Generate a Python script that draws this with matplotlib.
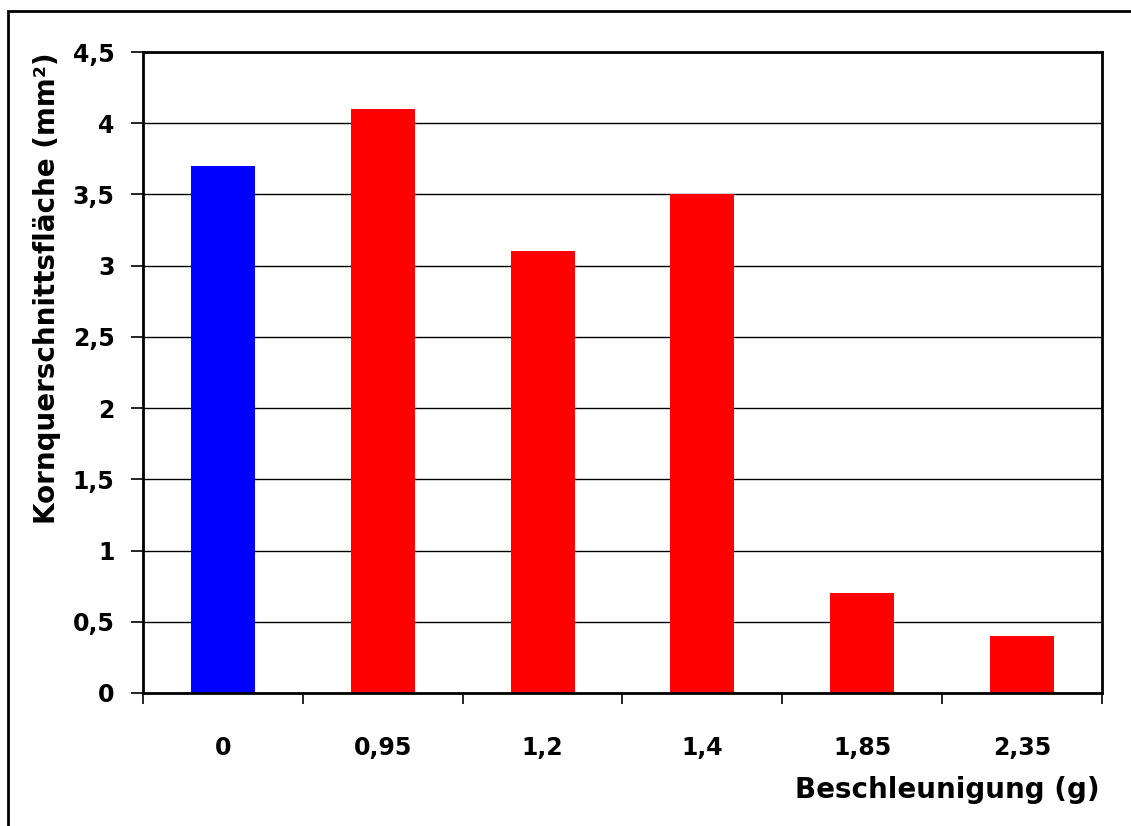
import numpy as np
import matplotlib
matplotlib.use('Agg')
import matplotlib.pyplot as plt
from matplotlib.patches import Rectangle

# data
categories = ['0', '0,95', '1,2', '1,4', '1,85', '2,35']
values = [3.7, 4.1, 3.1, 3.5, 0.7, 0.4]
colors = ['#0000ff', '#ff0000', '#ff0000', '#ff0000', '#ff0000', '#ff0000']
yticks = [0, 0.5, 1, 1.5, 2, 2.5, 3, 3.5, 4, 4.5]
ytick_labels = ['0', '0,5', '1', '1,5', '2', '2,5', '3', '3,5', '4', '4,5']

plt.rcParams['font.family'] = ['DejaVu Sans']
plt.rcParams['font.weight'] = 'bold'

W, H = 1131, 826
fig = plt.figure(figsize=(W / 100, H / 100), dpi=100)
ax = fig.add_axes([143 / W, 1 - 693 / H, (1102 - 143) / W, (693 - 52) / H])

x = np.arange(len(categories))
ax.bar(x, values, width=0.4, color=colors, zorder=3)

ax.set_xlim(-0.5, len(categories) - 0.5)
ax.set_ylim(0, 4.5)

# gridlines
ax.set_yticks(yticks)
ax.set_yticklabels(ytick_labels, fontsize=17, fontweight='bold')
ax.yaxis.grid(True, color='black', linewidth=1, zorder=1)

# category labels centred, tick marks between categories
ax.set_xticks(x)
ax.set_xticklabels(categories, fontsize=17, fontweight='bold')
ax.set_xticks(np.arange(len(categories) + 1) - 0.5, minor=True)
ax.tick_params(axis='x', which='major', length=0, pad=31)
ax.tick_params(axis='x', which='minor', length=8, width=1.2, direction='out')
ax.tick_params(axis='y', length=8.5, width=1.2, direction='out', pad=12)

for s in ax.spines.values():
    s.set_linewidth(2)
    s.set_zorder(4)

fig.text(47 / W, 1 - 52 / H, 'Kornquerschnittsfläche (mm²)', rotation=90,
         ha='center', va='top', fontsize=20, fontweight='bold')
fig.text(1100 / W, 1 - 790 / H, 'Beschleunigung (g)', ha='right', va='center',
         fontsize=20, fontweight='bold')

# outer frame (runs off right and bottom edge)
fig.patches.append(Rectangle((8 / W, -0.1), 1.2, 1 - 11 / H + 0.1,
                             transform=fig.transFigure, fill=False,
                             edgecolor='black', linewidth=2))

fig.savefig('out.png', dpi=100, facecolor='white')
